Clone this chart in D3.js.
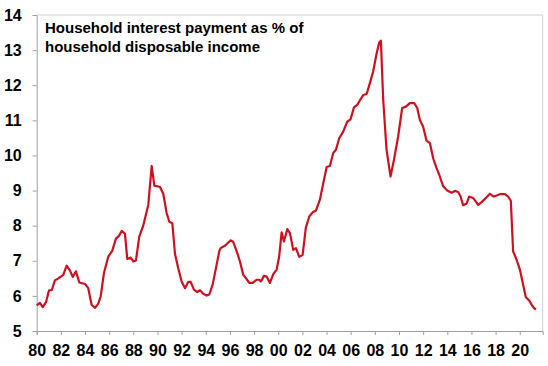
<!DOCTYPE html>
<html>
<head>
<meta charset="utf-8">
<script src="https://cdn.jsdelivr.net/npm/d3@7"></script>
<style>
  html, body { margin: 0; padding: 0; background: #fff; }
  svg { display: block; }
</style>
</head>
<body>
<svg id="chart" width="548" height="366"></svg>
<script>
// Decimal year of each reading
const years = [
  1980.00, 1980.27, 1980.50, 1980.77, 1981.02, 1981.24, 1981.51, 1981.79, 1982.20, 1982.48,
  1982.76, 1982.98, 1983.25, 1983.53, 1984.00, 1984.27, 1984.55, 1984.83, 1985.10, 1985.30,
  1985.57, 1985.93, 1986.26, 1986.56, 1986.81, 1987.04, 1987.31, 1987.50, 1987.78, 1988.00,
  1988.22, 1988.49, 1988.82, 1989.24, 1989.52, 1989.74, 1990.21, 1990.48, 1990.76, 1990.98,
  1991.23, 1991.45, 1991.72, 1992.00, 1992.28, 1992.55, 1992.75, 1993.02, 1993.29, 1993.52,
  1993.79, 1994.07, 1994.29, 1994.57, 1994.90, 1995.12, 1995.23, 1995.59, 1995.86, 1996.06,
  1996.27, 1996.56, 1996.83, 1997.10, 1997.38, 1997.60, 1997.88, 1998.21, 1998.43, 1998.57,
  1998.82, 1999.04, 1999.31, 1999.59, 1999.87, 2000.08, 2000.28, 2000.47, 2000.75, 2000.97,
  2001.24, 2001.47, 2001.74, 2002.02, 2002.29, 2002.57, 2002.85, 2003.12, 2003.45, 2003.73,
  2004.01, 2004.28, 2004.55, 2004.78, 2005.05, 2005.38, 2005.71, 2005.99, 2006.27, 2006.54,
  2006.82, 2007.04, 2007.32, 2007.59, 2007.86, 2008.15, 2008.36, 2008.50, 2008.69, 2008.97,
  2009.30, 2009.58, 2009.93, 2010.26, 2010.57, 2010.90, 2011.26, 2011.51, 2011.73, 2012.00,
  2012.28, 2012.56, 2012.83, 2013.11, 2013.33, 2013.66, 2013.99, 2014.35, 2014.63, 2014.90,
  2015.10, 2015.31, 2015.60, 2015.81, 2016.14, 2016.56, 2016.84, 2017.19, 2017.53, 2017.80,
  2018.08, 2018.41, 2018.77, 2019.04, 2019.26, 2019.45, 2019.74, 2020.01, 2020.28, 2020.50,
  2020.78, 2020.98, 2021.17, 2021.33
];
// Household interest payments, % of household disposable income
const values = [
  5.73, 5.80, 5.68, 5.82, 6.16, 6.16, 6.44, 6.50, 6.60, 6.86,
  6.72, 6.54, 6.70, 6.38, 6.34, 6.22, 5.74, 5.66, 5.78, 5.99,
  6.65, 7.12, 7.29, 7.63, 7.71, 7.85, 7.77, 7.05, 7.09, 6.98,
  7.01, 7.68, 8.00, 8.59, 9.70, 9.14, 9.10, 8.91, 8.36, 8.11,
  8.07, 7.20, 6.79, 6.41, 6.22, 6.40, 6.40, 6.18, 6.11, 6.16,
  6.06, 6.01, 6.04, 6.32, 6.89, 7.28, 7.36, 7.43, 7.52, 7.58,
  7.54, 7.27, 6.98, 6.60, 6.48, 6.37, 6.37, 6.46, 6.46, 6.41,
  6.57, 6.55, 6.37, 6.62, 6.75, 7.12, 7.81, 7.55, 7.90, 7.79,
  7.31, 7.36, 7.11, 7.17, 7.95, 8.26, 8.38, 8.43, 8.74, 9.21,
  9.67, 9.70, 10.07, 10.16, 10.49, 10.68, 10.96, 11.03, 11.37, 11.44,
  11.60, 11.72, 11.75, 12.06, 12.39, 12.91, 13.21, 13.27, 11.60, 10.16,
  9.40, 9.87, 10.54, 11.35, 11.39, 11.49, 11.49, 11.35, 11.01, 10.82,
  10.42, 10.35, 9.92, 9.64, 9.45, 9.12, 9.00, 8.94, 8.99, 8.96,
  8.83, 8.58, 8.63, 8.83, 8.79, 8.59, 8.67, 8.79, 8.91, 8.83,
  8.86, 8.90, 8.90, 8.83, 8.71, 7.27, 7.03, 6.75, 6.32, 5.96,
  5.87, 5.75, 5.66, 5.61
];
const xTickYears = [1980, 1982, 1984, 1986, 1988, 1990, 1992, 1994, 1996, 1998, 2000,
                    2002, 2004, 2006, 2008, 2010, 2012, 2014, 2016, 2018, 2020];
const xTickLabels = ["80", "82", "84", "86", "88", "90", "92", "94", "96", "98", "00",
                     "02", "04", "06", "08", "10", "12", "14", "16", "18", "20"];
const yTicks = [5, 6, 7, 8, 9, 10, 11, 12, 13, 14];
const titleLines = ["Household interest payment as % of", "household disposable income"];

(function () {
  const data = years.map((yr, i) => ({ year: yr, value: values[i] }));

  const svg = d3.select("#chart");
  const mLeft = 36.7, mRight = 542.7, mTop = 15, mBottom = 331;
  const fontFam = "Arial, 'Liberation Sans', Helvetica, sans-serif";

  const x = d3.scaleLinear().domain([1980, 2021.9]).range([mLeft, mRight]);
  const y = d3.scaleLinear().domain([5, 14]).range([mBottom, mTop]);

  // frame (top & right)
  svg.append("path")
    .attr("d", `M${mLeft},${mTop}H${mRight}V${mBottom}`)
    .attr("fill", "none").attr("stroke", "#d0d0d0").attr("stroke-width", 1);

  // y axis
  const yAxis = svg.append("g").attr("transform", `translate(${mLeft},0)`)
    .call(d3.axisLeft(y).tickValues(yTicks).tickSize(4).tickPadding(11).tickFormat(d3.format("d")));
  yAxis.select(".domain").attr("stroke", "#a0a0a0");
  yAxis.selectAll(".tick line").attr("stroke", "#a0a0a0");
  yAxis.selectAll("text").attr("font-family", fontFam).attr("font-weight", "bold")
    .attr("font-size", 16).attr("fill", "#000");

  // x axis
  const xAxis = svg.append("g").attr("transform", `translate(0,${mBottom})`)
    .call(d3.axisBottom(x).tickValues(xTickYears).tickSize(4).tickPadding(10)
      .tickFormat((d, i) => xTickLabels[i]));
  xAxis.select(".domain").attr("stroke", "#a0a0a0");
  xAxis.selectAll(".tick line").attr("stroke", "#a0a0a0");
  xAxis.selectAll("text").attr("font-family", fontFam).attr("font-weight", "bold")
    .attr("font-size", 16).attr("fill", "#000");

  // line
  const line = d3.line().x(d => x(d.year)).y(d => y(d.value));
  svg.append("path").datum(data)
    .attr("d", line)
    .attr("fill", "none")
    .attr("stroke", "#d0101e")
    .attr("stroke-width", 2.2)
    .attr("stroke-linejoin", "round");

  // title
  const title = svg.append("text")
    .attr("font-family", fontFam).attr("font-weight", "bold")
    .attr("font-size", 15).attr("fill", "#000");
  titleLines.forEach((t, i) => {
    title.append("tspan").attr("x", 45).attr("y", 33 + i * 19).text(t);
  });
})();
</script>
</body>
</html>
